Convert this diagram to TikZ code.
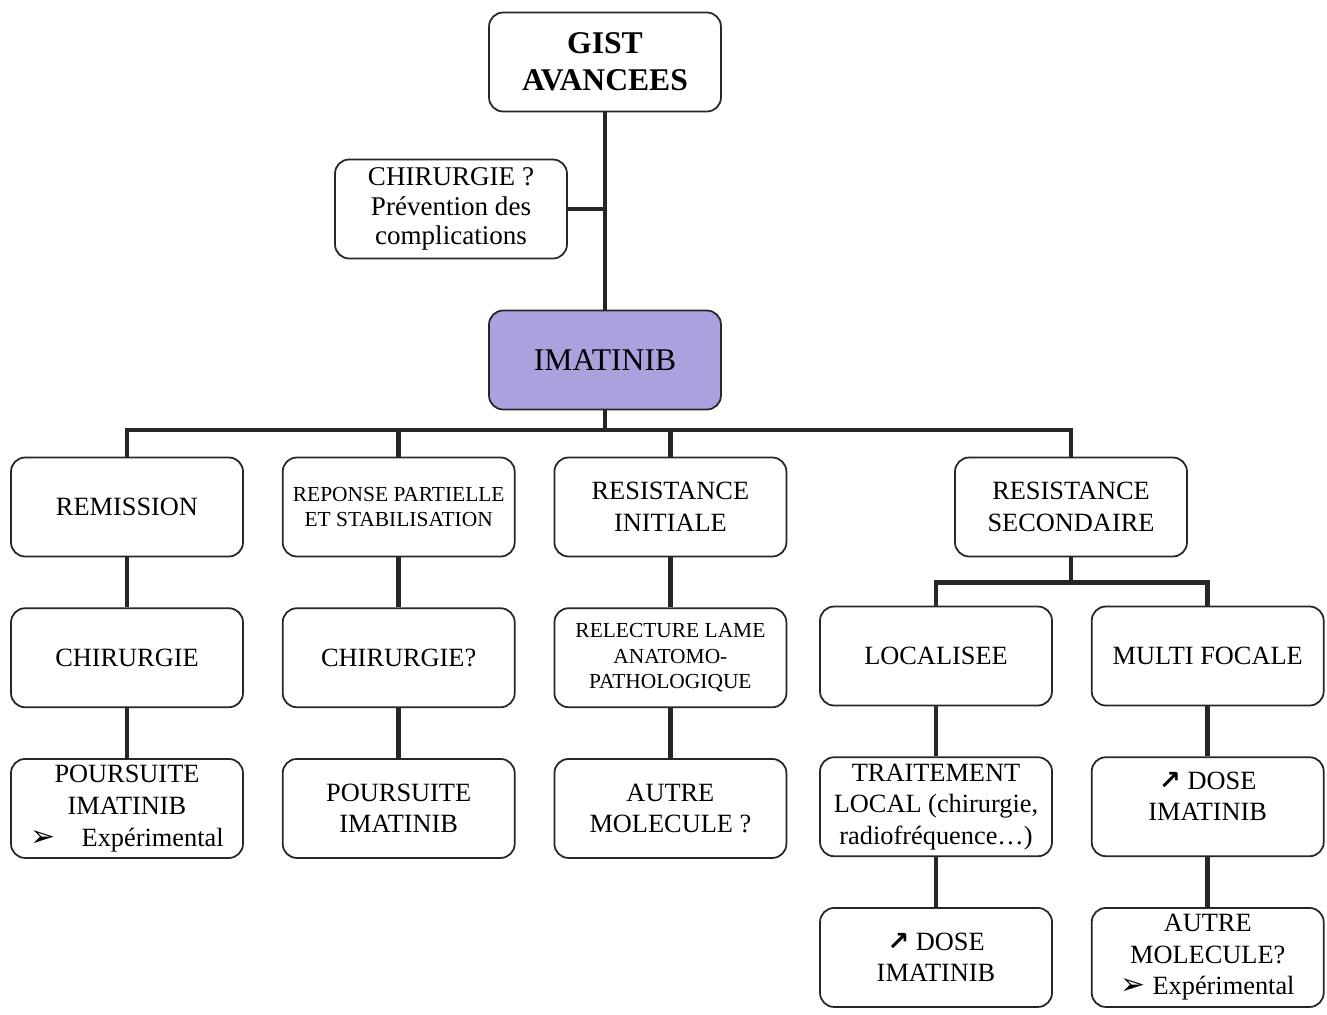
\documentclass[tikz,border=0pt]{standalone}
\usepackage{fontspec}
\setmainfont{Liberation Serif}
\newfontfamily\symfont{DejaVu Sans}
\usetikzlibrary{positioning}
\definecolor{lavender}{RGB}{172,160,222}
\definecolor{inkline}{RGB}{38,38,42}
\newcommand{\incr}{{\symfont\bfseries ↗}}
\newcommand{\puce}{{\symfont\fontsize{17}{18}\selectfont ➢}}

\begin{document}
\begin{tikzpicture}[
    x=0.02cm, y=-0.02cm,
    node distance=1cm and 0.76cm,
    box/.style={rectangle, draw=inkline, line width=1pt, rounded corners=8pt, fill=white,
        minimum width=4.64cm, minimum height=1.98cm, inner sep=2pt, align=center,
        font=\fontsize{15}{18}\selectfont},
    smallbox/.style={box, font=\fontsize{12.2}{14.5}\selectfont},
    note/.style={box, font=\fontsize{15.4}{17}\selectfont},
    drug/.style={box, fill=lavender, font=\fontsize{18}{21}\selectfont},
    title/.style={box, font=\fontsize{18}{21}\selectfont\bfseries},
    link/.style={draw=inkline, line width=2.6pt}
]
    \useasboundingbox (0,0) rectangle (1327,1014);

    % Top
    \node[title] (gist) at (605,62) {GIST\\AVANCEES};
    \node[note] (chirq) at (451,209) {CHIRURGIE ?\\Prévention des\\complications};
    \node[drug] (imat) at (605,360) {IMATINIB};

    % Response level
    \node[box] (remission) at (127,507) {REMISSION};
    \node[smallbox, right=of remission] (partielle) {REPONSE PARTIELLE\\ET STABILISATION};
    \node[box, right=of partielle] (resinit) {RESISTANCE\\INITIALE};
    \node[box] (resisec) at (1071,507) {RESISTANCE\\SECONDAIRE};

    % Remission
    \node[box, below=of remission] (chir) {CHIRURGIE};
    \node[box, below=of chir] (pours) {POURSUITE\\IMATINIB\\\puce\quad Expérimental};

    % Partial response
    \node[box, below=of partielle] (chirp) {CHIRURGIE?};
    \node[box, below=of chirp] (poursp) {POURSUITE\\IMATINIB};

    % Initial resistance
    \node[smallbox, below=of resinit] (relect) {RELECTURE LAME\\ANATOMO-\\PATHOLOGIQUE};
    \node[box, below=of relect] (autre) {AUTRE\\MOLECULE ?};

    % Secondary resistance
    \node[box] (local) at (936,656) {LOCALISEE};
    \node[box, right=of local] (multi) {MULTI FOCALE};
    \node[box, below=of local] (trait) {TRAITEMENT\\LOCAL (chirurgie,\\radiofréquence…)};
    \node[box, below=of trait] (dosel) {\incr\ DOSE\\IMATINIB};
    \node[box, below=of multi] (dosem) {\incr\ DOSE\\IMATINIB\\[-6pt]};
    \node[box, below=of dosem] (autrem) {AUTRE\\MOLECULE?\\\puce\ Expérimental};

    % Edges
    \coordinate (bus) at (605,430);
    \coordinate[below=0.5cm of resisec.south] (split);
    \draw[link] (gist) -- (imat);
    \draw[link] (chirq) -- (chirq -| imat);
    \draw[link] (imat) -- (bus);
    \draw[link] (remission) |- (bus) -| (resisec);
    \draw[link] (partielle) -- (partielle |- bus);
    \draw[link] (resinit) -- (resinit |- bus);
    \draw[link] (resisec) -- (split);
    \draw[link] (local) |- (split) -| (multi);
    \draw[link] (remission) -- (chir);
    \draw[link] (chir) -- (pours);
    \draw[link] (partielle) -- (chirp);
    \draw[link] (chirp) -- (poursp);
    \draw[link] (resinit) -- (relect);
    \draw[link] (relect) -- (autre);
    \draw[link] (local) -- (trait);
    \draw[link] (trait) -- (dosel);
    \draw[link] (multi) -- (dosem);
    \draw[link] (dosem) -- (autrem);
\end{tikzpicture}
\end{document}
